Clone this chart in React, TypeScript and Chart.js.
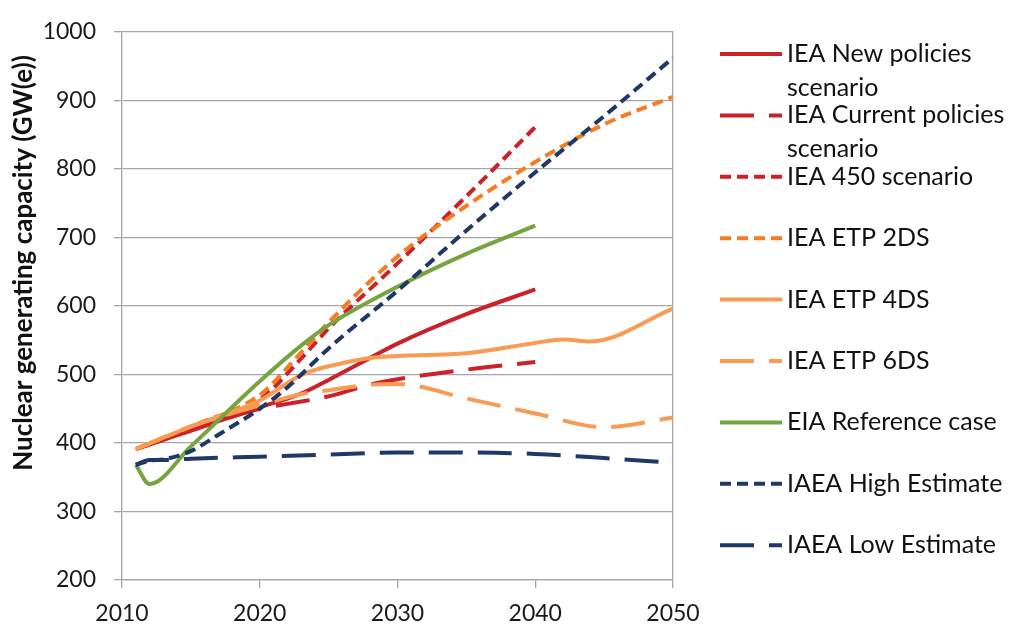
import { useEffect, useRef } from "react";
import { Chart, registerables } from "chart.js";

Chart.register(...registerables);

// ---- data ----
const seriesNames = [
  "IEA New policies scenario",
  "IEA Current policies scenario",
  "IEA 450 scenario",
  "IEA ETP 2DS",
  "IEA ETP 4DS",
  "IEA ETP 6DS",
  "EIA Reference case",
  "IAEA High Estimate",
  "IAEA Low Estimate",
];

const npYears = [2011, 2015, 2020, 2023, 2025, 2028, 2030, 2035, 2040];
const npValues = [391, 418, 452, 472, 492, 524, 545, 588, 624];

const cpYears = [2011, 2015, 2020, 2022, 2025, 2028, 2030, 2035, 2040];
const cpValues = [391, 418, 450, 457, 468, 485, 493, 507, 518];

const s450Years = [2011, 2015, 2020, 2023, 2025, 2030, 2035, 2040];
const s450Values = [391, 420, 463, 523, 567, 662, 760, 861];

const ds2Years = [2011, 2015, 2020, 2023, 2025, 2030, 2035, 2040, 2045, 2050];
const ds2Values = [391, 424, 470, 532, 576, 672, 746, 810, 865, 905];

const ds4Years = [2011, 2015, 2020, 2023, 2025, 2028, 2030, 2035, 2040, 2042, 2044, 2050];
const ds4Values = [391, 424, 462, 499, 512, 524, 527, 531, 546, 551, 548, 596];

const ds6Years = [2011, 2015, 2020, 2023, 2025, 2028, 2030, 2035, 2040, 2045, 2050];
const ds6Values = [391, 424, 455, 471, 477, 485, 486, 465, 443, 423, 437];

const eiaYears = [2011, 2012, 2015, 2020, 2023, 2025, 2030, 2035, 2040];
const eiaValues = [368, 340, 395, 490, 542, 572, 628, 676, 717];

const highYears = [2011, 2012, 2013, 2015, 2017, 2020, 2022, 2025, 2030, 2035, 2040, 2045, 2050];
const highValues = [368, 374, 376, 388, 412, 450, 481, 538, 622, 710, 795, 877, 962];

const lowYears = [2011, 2012, 2013, 2015, 2020, 2025, 2030, 2035, 2040, 2045, 2050];
const lowValues = [368, 375, 375, 377, 380, 383, 386, 386, 384, 378, 371];

const xTicks = [2010, 2020, 2030, 2040, 2050];
const yTicks = [200, 300, 400, 500, 600, 700, 800, 900, 1000];
const yTitle = "Nuclear generating capacity (GW(e))";

// ---- styles ----
const RED = "#CB2129";
const ORANGE_DARK = "#F47C22";
const ORANGE_LIGHT = "#F99B52";
const GREEN = "#76A540";
const NAVY = "#1F3966";
const SHORT: number[] = [11, 6];
const LONG: number[] = [34, 15];
const FONT = "Lato, 'Open Sans', sans-serif";

const toPoints = (xs: number[], ys: number[]) => xs.map((x, i) => ({ x, y: ys[i] }));

const seriesData = [
  toPoints(npYears, npValues),
  toPoints(cpYears, cpValues),
  toPoints(s450Years, s450Values),
  toPoints(ds2Years, ds2Values),
  toPoints(ds4Years, ds4Values),
  toPoints(ds6Years, ds6Values),
  toPoints(eiaYears, eiaValues),
  toPoints(highYears, highValues),
  toPoints(lowYears, lowValues),
];
const seriesColors = [RED, RED, RED, ORANGE_DARK, ORANGE_LIGHT, ORANGE_LIGHT, GREEN, NAVY, NAVY];
const seriesDashes = [[], LONG, SHORT, SHORT, [], LONG, [], SHORT, LONG];

const wrapText = (ctx: CanvasRenderingContext2D, text: string, maxW: number) => {
  const words = text.split(" ");
  const lines: string[] = [];
  let cur = "";
  for (const w of words) {
    const t = cur ? cur + " " + w : w;
    if (ctx.measureText(t).width > maxW && cur) {
      lines.push(cur);
      cur = w;
    } else cur = t;
  }
  if (cur) lines.push(cur);
  return lines;
};

const sideLegend = {
  id: "sideLegend",
  afterDraw(chart: any) {
    const ctx: CanvasRenderingContext2D = chart.ctx;
    ctx.save();
    ctx.font = `25px ${FONT}`;
    ctx.textBaseline = "middle";
    ctx.textAlign = "left";
    ctx.fillStyle = "#111";
    chart.data.datasets.forEach((ds: any, i: number) => {
      const y = 54 + i * 61.4;
      ctx.beginPath();
      ctx.strokeStyle = ds.borderColor;
      ctx.lineWidth = 4;
      ctx.setLineDash(ds.borderDash || []);
      ctx.moveTo(720, y);
      ctx.lineTo(782, y);
      ctx.stroke();
      ctx.setLineDash([]);
      const lines = wrapText(ctx, ds.label, 224);
      lines.forEach((ln, j) => ctx.fillText(ln, 787, y + j * 34));
    });
    // y axis title
    ctx.save();
    ctx.translate(24, 263);
    ctx.rotate(-Math.PI / 2);
    ctx.textAlign = "center";
    ctx.font = `bold 26px ${FONT}`;
    ctx.fillText(yTitle, 0, 0);
    ctx.restore();
    ctx.restore();
  },
};

export default function App() {
  const ref = useRef<HTMLCanvasElement | null>(null);
  useEffect(() => {
    if (!ref.current) return;
    const n = seriesNames.length;
    const chart = new Chart(ref.current, {
      type: "line",
      data: {
        datasets: seriesNames.map((name, i) => ({
          label: name,
          data: seriesData[i],
          borderColor: seriesColors[i],
          backgroundColor: seriesColors[i],
          borderDash: seriesDashes[i],
          borderWidth: 4,
          borderCapStyle: "butt",
          pointRadius: 0,
          pointHoverRadius: 0,
          cubicInterpolationMode: "monotone",
          fill: false,
          order: n - i,
        })),
      },
      options: {
        animation: false,
        responsive: true,
        maintainAspectRatio: false,
        layout: { padding: { left: 0, top: 19, right: 338, bottom: 0 } },
        plugins: { legend: { display: false }, tooltip: { enabled: false } },
        scales: {
          x: {
            type: "linear",
            min: xTicks[0],
            max: xTicks[xTicks.length - 1],
            afterBuildTicks: (s: any) => {
              s.ticks = xTicks.map((v) => ({ value: v }));
            },
            ticks: {
              color: "#1a1a1a",
              font: { family: FONT, size: 23 },
              padding: 12,
              maxRotation: 0,
              callback: (v: any) => String(v),
            },
            grid: {
              color: (c: any) => (c.tick && c.tick.value === 2050 ? "#A6A6A6" : "rgba(0,0,0,0)"),
              tickColor: "#A6A6A6",
              tickLength: 8,
              lineWidth: 1.3,
            },
            border: { color: "#A6A6A6", width: 1.3 },
            afterFit: (s: any) => {
              s.height = 50;
            },
          },
          y: {
            min: yTicks[0],
            max: yTicks[yTicks.length - 1],
            afterBuildTicks: (s: any) => {
              s.ticks = yTicks.map((v) => ({ value: v }));
            },
            ticks: {
              color: "#1a1a1a",
              font: { family: FONT, size: 23 },
              padding: 18,
              callback: (v: any) => String(v),
            },
            grid: { color: "#A6A6A6", tickColor: "#A6A6A6", tickLength: 8, lineWidth: 1.3 },
            border: { color: "#A6A6A6", width: 1.3 },
            afterFit: (s: any) => {
              s.width = 122;
            },
          },
        },
      },
      plugins: [sideLegend],
    } as any);
    return () => chart.destroy();
  }, []);
  return (
    <div style={{ position: "absolute", left: 0, top: 0, width: 1011, height: 630, background: "#fff" }}>
      <canvas ref={ref} />
    </div>
  );
}
